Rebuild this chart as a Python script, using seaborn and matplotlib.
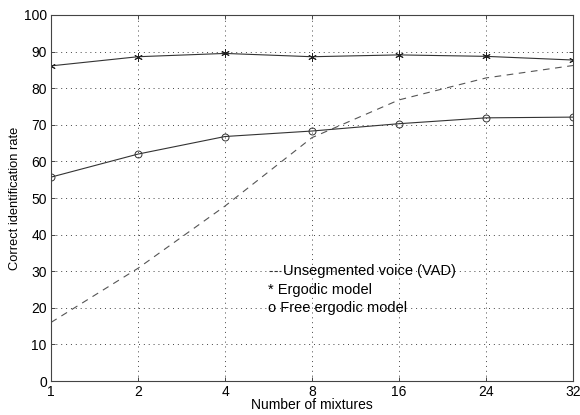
import matplotlib
matplotlib.use("Agg")
import matplotlib.pyplot as plt
import seaborn as sns
import pandas as pd
import numpy as np

mixtures = ["1", "2", "4", "8", "16", "24", "32"]
vad = [16, 30.8, 47.8, 66.5, 76.8, 82.8, 86.2]
ergodic = [86.1, 88.6, 89.5, 88.6, 89.1, 88.7, 87.7]
free_ergodic = [55.7, 62.0, 66.8, 68.3, 70.3, 71.9, 72.1]
yticks = list(range(0, 101, 10))

sns.set_theme(style="white")
plt.rcParams['font.family'] = ['Liberation Sans', 'DejaVu Sans']
plt.rcParams['text.color'] = 'black'
plt.rcParams['axes.labelcolor'] = 'black'
plt.rcParams['xtick.color'] = 'black'
plt.rcParams['ytick.color'] = 'black'

pos = np.arange(len(mixtures))
df = pd.DataFrame({"pos": pos, "vad": vad, "erg": ergodic, "free": free_ergodic})

fig = plt.figure(figsize=(5.8, 4.15), dpi=100)
ax = fig.add_axes([51/580, 1-381/415, (573-51)/580, (381-15)/415])

sns.lineplot(data=df, x="pos", y="vad", ax=ax, color="#555555", lw=0.8,
             linestyle=(0, (6, 5)))
sns.lineplot(data=df, x="pos", y="erg", ax=ax, color="#333333", lw=0.8,
             marker=(6, 2, 0), markersize=6, markeredgewidth=0.7,
             markeredgecolor="#222222")
sns.lineplot(data=df, x="pos", y="free", ax=ax, color="#333333", lw=0.8,
             marker="o", markersize=5, markerfacecolor="none",
             markeredgewidth=0.7, markeredgecolor="#333333")

ax.set_xlim(0, len(mixtures)-1)
ax.set_ylim(0, 100)
ax.set_xticks(pos)
ax.set_xticklabels(mixtures)
ax.set_yticks(yticks)
ax.set_yticklabels([str(v) for v in yticks])
ax.grid(True, color="#444444", linestyle=(0, (1, 4)), linewidth=0.7)
for s in ax.spines.values():
    s.set_visible(True)
    s.set_color("#444444")
    s.set_linewidth(0.8)
ax.tick_params(direction="in", length=3, width=0.7, color="#444444",
               labelcolor="black",
               labelsize=10, pad=3, top=True, right=True, bottom=True, left=True,
               labeltop=False, labelright=False)
ax.set_xlabel("Number of mixtures", fontsize=10, labelpad=-1)
ax.set_ylabel("Correct identification rate", fontsize=9.3, labelpad=2)

# in-plot text legend
ax.plot([2.5, 2.64], [30, 30], color="#333333", lw=0.8, linestyle=(0, (3, 1.5)))
ax.text(2.67, 30, "Unsegmented voice (VAD)", fontsize=10.5, va="center", ha="left")
ax.text(2.5, 25.0, "* Ergodic model", fontsize=10.5, va="center", ha="left")
ax.text(2.5, 20.0, "o Free ergodic model", fontsize=10.5, va="center", ha="left")

fig.savefig("out.png", dpi=100)
